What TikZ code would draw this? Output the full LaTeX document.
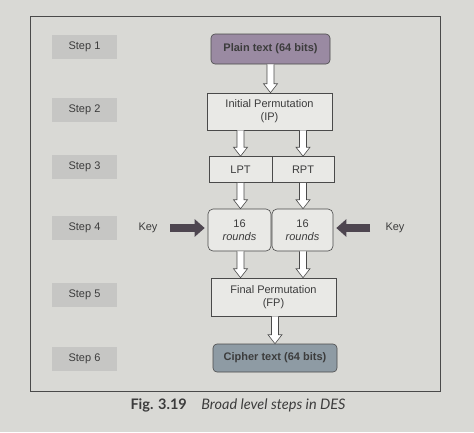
\documentclass[tikz,border=0pt]{standalone}
\usepackage{fontspec}
\setmainfont{Liberation Sans}
\newfontfamily\capfont{Lato}
\usetikzlibrary{arrows.meta,calc}

\definecolor{pagec}{HTML}{D9D9D5}
\definecolor{linec}{HTML}{4A4A4A}
\definecolor{txtc}{HTML}{3C3C3C}
\definecolor{stepc}{HTML}{C6C6C4}
\definecolor{boxc}{HTML}{E9E9E6}
\definecolor{plainc}{HTML}{9A8AA2}
\definecolor{cipherc}{HTML}{8E9BA4}
\definecolor{keyc}{HTML}{4E4650}

\tikzset{
  box/.style={draw=linec, fill=boxc, text=txtc, line width=0.6pt, inner sep=0pt,
    align=center, font=\fontsize{11}{13}\selectfont},
  stepbox/.style={fill=stepc, text=txtc, minimum width=65pt, minimum height=24pt,
    font=\fontsize{11}{13}\selectfont},
  hollow/.style={draw=linec, fill=white, line width=0.6pt,
    to path={let \p1=(\tikztostart), \p2=(\tikztotarget) in
      (\x1-3.5pt,\y1) -- (\x1-3.5pt,\y2+9pt) -- (\x1-7pt,\y2+9pt) -- (\x1,\y2)
      -- (\x1+7pt,\y2+9pt) -- (\x1+3.5pt,\y2+9pt) -- (\x1+3.5pt,\y1)}},
  keyarrow/.style={draw=keyc, line width=8pt,
    -{Triangle[length=10pt,width=17pt]}}
}

\begin{document}
\begin{tikzpicture}[x=1pt,y=-1pt]
    \fill[pagec] (0,0) rectangle (474,432);
    \useasboundingbox (0,0) rectangle (474,432);
    \draw[linec, line width=0.7pt] (30,16) rectangle (440,391);

    % step labels
    \node[stepbox] (s1) at (84.5,47) {Step 1};
    \node[stepbox] (s2) at (84.5,110) {Step 2};
    \node[stepbox] (s3) at (84.5,167) {Step 3};
    \node[stepbox] (s4) at (84.5,228) {Step 4};
    \node[stepbox] (s5) at (84.5,295) {Step 5};
    \node[stepbox] (s6) at (84.5,359) {Step 6};

    % boxes
    \node[box, fill=plainc, rounded corners=4pt, minimum width=119pt, minimum height=30pt,
          font=\fontsize{11}{13}\selectfont\bfseries] (plain) at (270.5,49) {Plain text (64 bits)};
    \node[box, minimum width=125pt, minimum height=37pt] (ip) at (269.5,111.5) {Initial Permutation\\(IP)};
    \node[box, minimum width=63pt, minimum height=26pt] (lpt) at (240.5,169.5) {LPT};
    \node[box, minimum width=62pt, minimum height=26pt] (rpt) at (303,169.5) {RPT};
    \node[box, rounded corners=5pt, minimum width=63pt, minimum height=42pt] (r1) at (239.5,230) {16\\\textit{rounds}};
    \node[box, rounded corners=5pt, minimum width=61pt, minimum height=42pt] (r2) at (302.5,230) {16\\\textit{rounds}};
    \node[box, minimum width=125pt, minimum height=38pt] (fp) at (273.5,297) {Final Permutation\\(FP)};
    \node[box, fill=cipherc, rounded corners=4pt, minimum width=124pt, minimum height=28pt,
          font=\fontsize{11}{13}\selectfont\bfseries] (ct) at (275,358) {Cipher text (64 bits)};

    % hollow arrows
    \draw[hollow] (plain.south) to (ip.north);
    \draw[hollow] (lpt |- ip.south) to (lpt.north);
    \draw[hollow] (rpt |- ip.south) to (rpt.north);
    \draw[hollow] (lpt.south) to (r1.north -| lpt);
    \draw[hollow] (rpt.south) to (r2.north -| rpt);
    \draw[hollow] (r1.south -| lpt) to (lpt |- fp.north);
    \draw[hollow] (r2.south -| rpt) to (rpt |- fp.north);
    \draw[hollow] (fp.south -| ct) to (ct.north);

    % keys
    \node[text=txtc, font=\fontsize{11}{13}\selectfont] (keyl) at (148,228) {Key};
    \node[text=txtc, font=\fontsize{11}{13}\selectfont] (keyr) at (395,228) {Key};
    \coordinate (kl) at (170,228);
    \coordinate (kr) at (370,228);
    \draw[keyarrow] (kl) -- ([xshift=-3pt]r1.west |- kl);
    \draw[keyarrow] (kr) -- ([xshift=3pt]r2.east |- kr);

    \node[text=txtc] (cap) at (238,405)
        {\capfont\fontsize{14.5}{17}\selectfont\textbf{Fig. 3.19}\quad\textit{Broad level steps in DES}};
\end{tikzpicture}
\end{document}
